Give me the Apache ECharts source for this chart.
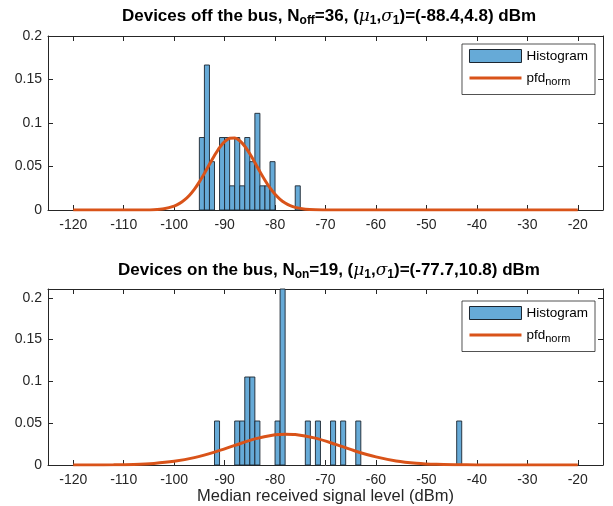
<!DOCTYPE html>
<html><head><meta charset="utf-8">
<script src="https://cdn.jsdelivr.net/npm/echarts@6/dist/echarts.min.js"></script>
<style>html,body{margin:0;padding:0;background:#fff}#c{width:613px;height:506px}</style>
</head><body><div id="c"></div>
<script>
// ---- data ----
const xTickLabels = [-120,-110,-100,-90,-80,-70,-60,-50,-40,-30,-20];
const yTickLabels = [0,0.05,0.1,0.15,0.2];
const binWidth = 1;
// Devices off the bus
const offN = 36;
const offBinStart = [-95,-94,-93,-92,-91,-90,-89,-88,-87,-86,-85,-84,-83,-82,-81,-80,-79,-78,-77,-76];
const offCounts   = [  3,  6,  2,  0,  3,  3,  1,  3,  1,  3,  2,  4,  1,  1,  2,  0,  0,  0,  0,  1];
const offPdfX = [-120,-110,-106,-104,-102,-100,-99,-98,-97,-96,-95,-94,-93,-92,-91,-90,-89,-88,-87,-86,-85,-84,-83,-82,-81,-80,-79,-78,-77,-76,-74,-72,-70,-66,-60,-40,-20];
const offPdfY = [0,0,0.0001,0.0004,0.0015,0.0045,0.0073,0.0113,0.0167,0.0237,0.0323,0.0421,0.0525,0.0627,0.0718,0.0786,0.0825,0.0828,0.0796,0.0733,0.0647,0.0546,0.0441,0.0342,0.0253,0.0180,0.0122,0.0080,0.0050,0.0030,0.0009,0.0002,0.0001,0,0,0,0];
// Devices on the bus
const onN = 19;
const onBinStart = [-92,-88,-87,-86,-85,-84,-80,-79,-74,-72,-69,-67,-64,-44];
const onCounts   = [  1,  1,  1,  2,  2,  1,  1,  4,  1,  1,  1,  1,  1,  1];
const onPdfX = [-120,-116,-112,-108,-104,-100,-96,-92,-88,-84,-80,-78,-76,-72,-68,-64,-60,-56,-52,-48,-44,-40,-36,-30,-20];
const onPdfY = [0.0000,0.0001,0.0002,0.0007,0.0019,0.0044,0.0088,0.0154,0.0234,0.0312,0.0361,0.0369,0.0365,0.0321,0.0247,0.0165,0.0097,0.0049,0.0022,0.0008,0.0003,0.0001,0,0,0];

// ---- styles ----
const FONT = 'Liberation Sans';
const AX = '#262626';
const BAR = '#66AAD7';
const EDGE = '#1c2630';
const LINE = '#D95319';

function histData(starts, counts, n) {
  const out = [];
  starts.forEach((s, i) => { if (counts[i] > 0) out.push([s, s + binWidth, counts[i] / n]); });
  return out;
}
function pdfData(xs, ys) { return xs.map((x, i) => [x, ys[i]]); }

function renderBar(params, api) {
  const p0 = api.coord([api.value(0), api.value(2)]);
  const p1 = api.coord([api.value(1), 0]);
  return {
    type: 'rect',
    shape: { x: p0[0], y: p0[1], width: p1[0] - p0[0], height: p1[1] - p0[1] },
    style: { fill: BAR, stroke: EDGE, lineWidth: 0.9 }
  };
}

const xLabelFmt = v => xTickLabels.some(t => Math.abs(t - v) < 1e-6) ? String(v) : '';
const yLabelFmt = v => yTickLabels.some(t => Math.abs(t - v) < 1e-9) ? String(+v.toFixed(2)) : '';

function xAx(grid, pos, labels, name) {
  return {
    type: 'value', gridIndex: grid, position: pos, min: -125, max: -15, splitNumber: 11,
    axisLine: { show: true, onZero: false, lineStyle: { color: AX, width: 1 } },
    axisTick: { show: true, inside: true, length: 5, lineStyle: { color: AX } },
    axisLabel: { show: labels, formatter: xLabelFmt, color: AX, fontSize: 14, fontFamily: FONT, margin: 8 },
    splitLine: { show: false },
    name: name || '', nameLocation: 'middle', nameGap: 22,
    nameTextStyle: { color: AX, fontSize: 16.5, fontFamily: FONT }
  };
}
function yAx(grid, pos, labels, max) {
  return {
    type: 'value', gridIndex: grid, position: pos, min: 0, max: max, interval: 0.05,
    axisLine: { show: true, onZero: false, lineStyle: { color: AX, width: 1 } },
    axisTick: { show: true, inside: true, length: 5, lineStyle: { color: AX } },
    axisLabel: { show: labels, formatter: yLabelFmt, color: AX, fontSize: 14, fontFamily: FONT, margin: 6, showMaxLabel: max === 0.2 },
    splitLine: { show: false }
  };
}

const titleRich = {
  b: { fontSize: 17, fontWeight: 'bold', color: '#000', fontFamily: FONT },
  bs: { fontSize: 12, fontWeight: 'bold', color: '#000', fontFamily: FONT, padding: [9, 0, 0, 0] },
  g: { fontSize: 17, fontStyle: 'italic', fontWeight: 'normal', color: '#000', fontFamily: 'DejaVu Serif' }
};
function legendCfg(top) {
  return {
    orient: 'vertical', right: 18, top: top, selectedMode: false,
    backgroundColor: '#fff', borderColor: AX, borderWidth: 0.8,
    padding: [5, 7, 7, 7], itemGap: 8, itemWidth: 52, itemHeight: 13, symbolKeepAspect: true,
    data: [
      { name: 'Histogram', icon: 'rect', itemStyle: { color: BAR, borderColor: EDGE, borderWidth: 1 } },
      { name: 'pfd', icon: 'path://M0,0H52V3H0Z', itemStyle: { color: LINE, borderWidth: 0 } }
    ],
    formatter: n => n === 'pfd' ? '{a|pfd}{s|norm}' : n,
    textStyle: {
      fontSize: 13.5, fontFamily: FONT, color: '#000',
      rich: { a: { fontSize: 13.5, fontFamily: FONT, color: '#000' }, s: { fontSize: 11, fontFamily: FONT, color: '#000', padding: [8, 0, 0, 0] } }
    }
  };
}

const chart = echarts.init(document.getElementById('c'), null, { renderer: 'canvas' });
chart.setOption({
  animation: false,
  backgroundColor: '#fff',
  title: [
    { text: '{b|Devices off the bus, N}{bs|off}{b|=36, (}{g|μ}{bs|1}{b|,}{g|σ}{bs|1}{b|)=(-88.4,4.8) dBm}',
      left: 329, top: 6, textAlign: 'center', padding: 0, textStyle: { rich: titleRich } },
    { text: '{b|Devices on the bus, N}{bs|on}{b|=19, (}{g|μ}{bs|1}{b|,}{g|σ}{bs|1}{b|)=(-77.7,10.8) dBm}',
      left: 329, top: 260, textAlign: 'center', padding: 0, textStyle: { rich: titleRich } }
  ],
  grid: [
    { left: 48, top: 36, width: 555, height: 174 },
    { left: 48, top: 289, width: 555, height: 176 }
  ],
  xAxis: [
    xAx(0, 'bottom', true), xAx(0, 'top', false),
    xAx(1, 'bottom', true, 'Median received signal level (dBm)'), xAx(1, 'top', false)
  ],
  yAxis: [
    yAx(0, 'left', true, 0.2), yAx(0, 'right', false, 0.2),
    yAx(1, 'left', true, 4 / 19), yAx(1, 'right', false, 4 / 19)
  ],
  legend: [legendCfg(44), legendCfg(301)],
  series: [
    { name: 'Histogram', type: 'custom', xAxisIndex: 0, yAxisIndex: 0, renderItem: renderBar,
      encode: { x: [0, 1], y: 2 }, itemStyle: { color: BAR }, data: histData(offBinStart, offCounts, offN), z: 2 },
    { name: 'pfd', type: 'line', xAxisIndex: 0, yAxisIndex: 0, smooth: 0.3, showSymbol: false, symbol: 'none',
      lineStyle: { color: LINE, width: 3 }, itemStyle: { color: LINE }, data: pdfData(offPdfX, offPdfY), z: 3 },
    { name: 'Histogram', type: 'custom', xAxisIndex: 2, yAxisIndex: 2, renderItem: renderBar,
      encode: { x: [0, 1], y: 2 }, itemStyle: { color: BAR }, data: histData(onBinStart, onCounts, onN), z: 2 },
    { name: 'pfd', type: 'line', xAxisIndex: 2, yAxisIndex: 2, smooth: 0.3, showSymbol: false, symbol: 'none',
      lineStyle: { color: LINE, width: 3 }, itemStyle: { color: LINE }, data: pdfData(onPdfX, onPdfY), z: 3 }
  ]
});
</script></body></html>
